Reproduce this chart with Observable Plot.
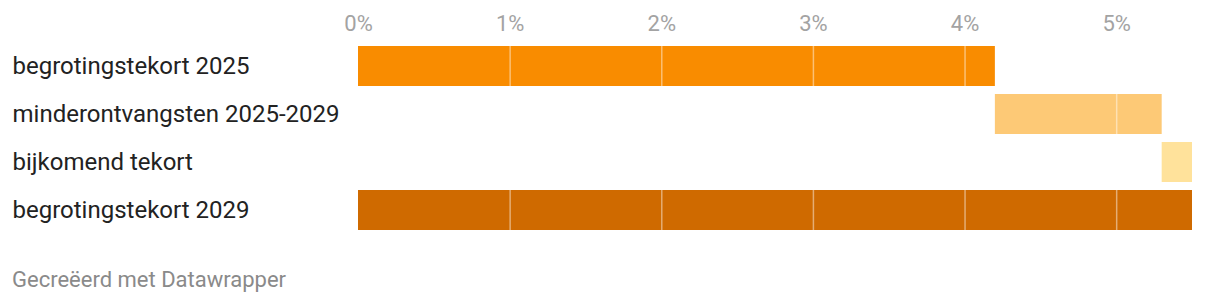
<!DOCTYPE html>
<html>
<head>
<meta charset="utf-8">
<script src="https://cdn.jsdelivr.net/npm/d3@7"></script>
<script src="https://cdn.jsdelivr.net/npm/@observablehq/plot@0.6"></script>
<style>
  html, body { margin: 0; padding: 0; background: #fff; }
  body { width: 1220px; height: 306px; overflow: hidden; font-family: Roboto, sans-serif; }
  #chart svg { display: block; }
  #footer { position: absolute; left: 12px; top: 267px; font-size: 22px; color: #8a8a8a; font-family: Roboto, sans-serif; }
</style>
</head>
<body>
<div id="chart"></div>
<div id="footer">Gecreëerd met Datawrapper</div>
<script>
const categories = ["begrotingstekort 2025", "minderontvangsten 2025-2029", "bijkomend tekort", "begrotingstekort 2029"];
const startValues = [0, 4.2, 5.3, 0];
const endValues = [4.2, 5.3, 5.5, 5.5];
const barColors = ["#f98c00", "#fdc976", "#ffe29b", "#cf6a00"];
const tickValues = [0, 1, 2, 3, 4, 5];
const tickLabels = ["0%", "1%", "2%", "3%", "4%", "5%"];

const rows = categories.map((c, i) => ({label: c, x1: startValues[i], x2: endValues[i], color: barColors[i]}));

const chart = Plot.plot({
  width: 1220,
  height: 240,
  marginLeft: 358,
  marginRight: 28,
  marginTop: 38,
  marginBottom: 2,
  style: {fontFamily: "Roboto, sans-serif", background: "#fff"},
  x: {domain: [0, 5.5]},
  y: {domain: categories, padding: 1/6, axis: null},
  marks: [
    Plot.barX(rows, {x1: "x1", x2: "x2", y: "label", fill: "color"}),
    Plot.ruleX(tickValues.filter(d => d > 0), {stroke: "#ffffff", strokeOpacity: 0.45, strokeWidth: 1.5}),
    Plot.axisX({anchor: "top", ticks: tickValues, tickSize: 0, tickFormat: (d) => tickLabels[tickValues.indexOf(d)], fontSize: 22, fill: "#a3a3a3", tickPadding: 8, textAnchor: "middle"}),
    Plot.text(rows, {y: "label", text: "label", frameAnchor: "left", dx: -346, textAnchor: "start", fontSize: 24, fill: "#222222"})
  ]
});
document.getElementById("chart").appendChild(chart);
</script>
</body>
</html>
